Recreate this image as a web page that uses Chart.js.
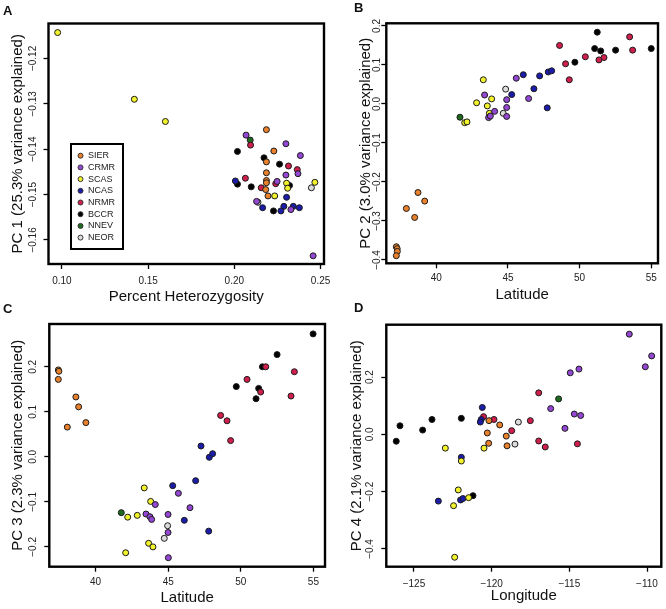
<!DOCTYPE html>
<html>
<head>
<meta charset="utf-8">
<script src="https://cdn.jsdelivr.net/npm/chart.js"></script>
<style>
  body { margin: 0; background: #fff; }
  #fig { position: relative; width: 666px; height: 609px; font-family: "Liberation Sans", Arial, sans-serif; }
  canvas { position: absolute; }
  .tag { position: absolute; font-weight: bold; font-size: 13px; line-height: 13px; color: #111; }
</style>
</head>
<body>
<div id="fig">
  <canvas id="pA" width="333" height="312" style="left:0;top:0"></canvas>
  <canvas id="pB" width="333" height="312" style="left:333px;top:0"></canvas>
  <canvas id="pC" width="333" height="309" style="left:0;top:300px"></canvas>
  <canvas id="pD" width="333" height="309" style="left:333px;top:300px"></canvas>
  <div class="tag" style="left:3px;top:4px">A</div>
  <div class="tag" style="left:354px;top:1px">B</div>
  <div class="tag" style="left:3px;top:302px">C</div>
  <div class="tag" style="left:354px;top:301px">D</div>
</div>
<script>
// population groups and their colours
var groups = ['SIER', 'CRMR', 'SCAS', 'NCAS', 'NRMR', 'BCCR', 'NNEV', 'NEOR'];
var groupColors = ['#e8802c', '#9347d2', '#f2f22c', '#1c1cab', '#d11f4d', '#000000', '#1e6a1e', '#dcdcdc'];

// PC1 vs percent heterozygosity  [group, het, pc1]
var pc1Het = [
  ['SCAS', 0.0975, -0.1143], ['SCAS', 0.142, -0.1290], ['SCAS', 0.160, -0.1339],
  ['SIER', 0.2186, -0.1357], ['CRMR', 0.2068, -0.1369], ['NNEV', 0.2092, -0.1380],
  ['NRMR', 0.2094, -0.1391], ['CRMR', 0.2299, -0.1388], ['BCCR', 0.2018, -0.1405],
  ['SIER', 0.2229, -0.1404], ['CRMR', 0.2383, -0.1414], ['BCCR', 0.2172, -0.1419],
  ['SIER', 0.2186, -0.1428], ['BCCR', 0.2262, -0.1433], ['NRMR', 0.2314, -0.1437],
  ['NRMR', 0.2365, -0.1445], ['CRMR', 0.2369, -0.1454], ['SIER', 0.2186, -0.1452],
  ['CRMR', 0.2299, -0.1457], ['NRMR', 0.2064, -0.1464], ['SIER', 0.2186, -0.1469],
  ['NCAS', 0.2006, -0.1470], ['BCCR', 0.2018, -0.1477], ['CRMR', 0.2248, -0.1471],
  ['SIER', 0.2186, -0.1474], ['NRMR', 0.2240, -0.1476], ['SCAS', 0.2303, -0.1475],
  ['BCCR', 0.2320, -0.1480], ['SCAS', 0.2309, -0.1486], ['BCCR', 0.2098, -0.1483],
  ['NRMR', 0.2156, -0.1485], ['SIER', 0.2182, -0.1489], ['SCAS', 0.2467, -0.1473],
  ['NEOR', 0.2447, -0.1485], ['SIER', 0.2195, -0.1503], ['SCAS', 0.2234, -0.1503],
  ['NCAS', 0.2303, -0.1506], ['CRMR', 0.2129, -0.1515], ['NEOR', 0.2137, -0.1517],
  ['NCAS', 0.2164, -0.1529], ['NCAS', 0.2287, -0.1526], ['NCAS', 0.2342, -0.1526],
  ['NCAS', 0.2377, -0.1529], ['BCCR', 0.2227, -0.1536], ['NCAS', 0.2270, -0.1536],
  ['CRMR', 0.2328, -0.1533], ['CRMR', 0.2457, -0.1635]
];

// PC2 vs latitude
var pc2Lat = [
  ['SIER', 37.21, -0.366], ['SIER', 37.27, -0.371], ['SIER', 37.28, -0.378], ['SIER', 37.21, -0.389],
  ['SIER', 38.72, -0.227], ['SIER', 39.19, -0.249], ['SIER', 37.91, -0.268], ['SIER', 38.49, -0.291],
  ['NNEV', 41.65, -0.034], ['SCAS', 41.98, -0.048], ['SCAS', 42.14, -0.046], ['SCAS', 42.81, 0.003],
  ['SCAS', 43.28, 0.062], ['CRMR', 43.37, 0.023], ['SCAS', 43.86, 0.013], ['SCAS', 43.56, -0.005],
  ['SCAS', 43.70, -0.024], ['CRMR', 43.65, -0.035], ['CRMR', 43.77, -0.031], ['CRMR', 44.07, -0.019],
  ['NEOR', 44.84, 0.038], ['NEOR', 44.67, -0.024], ['CRMR', 44.91, 0.011], ['CRMR', 44.91, -0.009],
  ['CRMR', 44.91, -0.032], ['NCAS', 45.26, 0.024], ['CRMR', 45.58, 0.066], ['NCAS', 46.07, 0.075],
  ['CRMR', 46.44, 0.014], ['NCAS', 46.81, 0.039], ['NCAS', 47.21, 0.072], ['NCAS', 47.74, -0.010],
  ['NCAS', 47.81, 0.082], ['NCAS', 48.05, 0.085], ['NRMR', 48.60, 0.150], ['NRMR', 49.02, 0.103],
  ['BCCR', 49.67, 0.107], ['NRMR', 49.28, 0.062], ['NRMR', 50.40, 0.121], ['BCCR', 51.05, 0.142],
  ['BCCR', 51.23, 0.184], ['NRMR', 51.35, 0.113], ['BCCR', 51.47, 0.136], ['NRMR', 51.70, 0.119],
  ['BCCR', 52.51, 0.138], ['NRMR', 53.49, 0.172], ['NRMR', 53.70, 0.138], ['BCCR', 55.00, 0.142]
];

// PC3 vs latitude
var pc3Lat = [
  ['SIER', 37.43, 0.193], ['SIER', 37.47, 0.190], ['SIER', 37.43, 0.172], ['SIER', 38.64, 0.133],
  ['SIER', 38.83, 0.111], ['SIER', 38.05, 0.066], ['SIER', 39.33, 0.076],
  ['NNEV', 41.77, -0.124], ['SCAS', 42.21, -0.134], ['SCAS', 42.07, -0.213], ['SCAS', 42.87, -0.130],
  ['SCAS', 43.35, -0.069], ['CRMR', 43.47, -0.127], ['SCAS', 43.79, -0.099], ['CRMR', 43.74, -0.133],
  ['CRMR', 43.86, -0.139], ['CRMR', 44.11, -0.106], ['SCAS', 43.65, -0.192], ['SCAS', 43.95, -0.200],
  ['NEOR', 44.96, -0.153], ['NEOR', 44.73, -0.181], ['CRMR', 44.99, -0.128], ['CRMR', 44.99, -0.168],
  ['CRMR', 45.01, -0.224], ['NCAS', 45.31, -0.064], ['CRMR', 45.70, -0.081], ['NCAS', 46.11, -0.141],
  ['CRMR', 46.50, -0.113], ['NCAS', 46.89, -0.053], ['NCAS', 47.79, -0.165], ['NCAS', 47.26, 0.024],
  ['NCAS', 47.83, -0.001], ['NCAS', 48.06, 0.007], ['NRMR', 48.61, 0.092], ['NRMR', 49.05, 0.080],
  ['NRMR', 49.30, 0.036], ['BCCR', 49.69, 0.156], ['NRMR', 50.43, 0.172], ['BCCR', 51.05, 0.129],
  ['BCCR', 51.23, 0.152], ['NRMR', 51.37, 0.144], ['BCCR', 51.49, 0.200], ['NRMR', 51.72, 0.200],
  ['BCCR', 52.50, 0.227], ['NRMR', 53.46, 0.135], ['NRMR', 53.69, 0.189], ['BCCR', 54.98, 0.273]
];

// PC4 vs longitude
var pc4Lon = [
  ['BCCR', -126.14, -0.024], ['BCCR', -125.90, 0.030], ['BCCR', -124.44, 0.015], ['BCCR', -123.84, 0.052],
  ['BCCR', -121.95, 0.056], ['SCAS', -122.98, -0.048], ['NCAS', -121.95, -0.080], ['SCAS', -121.95, -0.093],
  ['NCAS', -120.60, 0.094], ['NCAS', -120.67, 0.052], ['NCAS', -120.73, 0.043], ['NRMR', -120.52, 0.062],
  ['SCAS', -120.49, -0.048], ['SIER', -120.17, 0.048], ['NRMR', -119.85, 0.052], ['SIER', -120.28, 0.005],
  ['SIER', -120.19, -0.031], ['SIER', -119.48, 0.033], ['NRMR', -118.71, 0.013], ['SIER', -119.06, -0.006],
  ['SIER', -119.01, -0.040], ['NEOR', -118.50, -0.034], ['NEOR', -118.28, 0.043], ['NRMR', -117.51, 0.048],
  ['NRMR', -116.97, 0.145], ['NRMR', -116.97, -0.023], ['NRMR', -116.55, -0.044], ['CRMR', -116.20, 0.090],
  ['NNEV', -115.69, 0.124], ['CRMR', -115.28, 0.021], ['CRMR', -114.94, 0.215], ['CRMR', -114.68, 0.071],
  ['CRMR', -114.38, 0.228], ['CRMR', -114.27, 0.066], ['NRMR', -114.48, -0.033], ['CRMR', -111.14, 0.350],
  ['CRMR', -110.11, 0.236], ['CRMR', -109.70, 0.274], ['NCAS', -123.43, -0.233], ['SCAS', -122.15, -0.194],
  ['SCAS', -122.45, -0.249], ['NCAS', -122.00, -0.229], ['NCAS', -121.85, -0.224], ['SCAS', -121.48, -0.221],
  ['BCCR', -121.20, -0.214], ['SCAS', -122.38, -0.429]
];

// tick values
var hetTicks = [0.10, 0.15, 0.20, 0.25];
var pc1Ticks = [-0.12, -0.13, -0.14, -0.15, -0.16];
var latTicks = [40, 45, 50, 55];
var pc2Ticks = [0.2, 0.1, 0.0, -0.1, -0.2, -0.3, -0.4];
var pc3Ticks = [0.2, 0.1, 0.0, -0.1, -0.2];
var lonTicks = [-125, -120, -115, -110];
var pc4Ticks = [0.2, 0.0, -0.2, -0.4];

var FONT = '"Liberation Sans", Arial, sans-serif';

function fmt(v, d) {
    return v.toFixed(d).replace('-', '\u2212');
}

// full box round the plot area, like R's box()
var framePlugin = {
    id: 'frame',
    afterDraw: function (chart) {
        var a = chart.chartArea, ctx = chart.ctx;
        ctx.save();
        ctx.lineWidth = 2.4;
        ctx.strokeStyle = '#000';
        ctx.strokeRect(a.left, a.top, a.right - a.left, a.bottom - a.top);
        ctx.restore();
    }
};

// y tick labels written parallel to the axis
var yLabelPlugin = {
    id: 'yLabels',
    afterDraw: function (chart, args, opts) {
        var scale = chart.scales.y, ctx = chart.ctx;
        ctx.save();
        ctx.font = '10px ' + FONT;
        ctx.fillStyle = '#222';
        ctx.textAlign = 'center';
        ctx.textBaseline = 'middle';
        scale.ticks.forEach(function (t) {
            var y = scale.getPixelForValue(t.value);
            ctx.save();
            ctx.translate(opts.x, y);
            ctx.rotate(-Math.PI / 2);
            ctx.fillText(fmt(t.value, opts.digits), 0, 0);
            ctx.restore();
        });
        ctx.restore();
    }
};

// boxed legend inside panel A
var legendPlugin = {
    id: 'boxLegend',
    afterDraw: function (chart, args, o) {
        var ctx = chart.ctx;
        ctx.save();
        ctx.fillStyle = '#fff';
        ctx.fillRect(o.x, o.y, o.w, o.h);
        ctx.lineWidth = 2;
        ctx.strokeStyle = '#000';
        ctx.strokeRect(o.x, o.y, o.w, o.h);
        ctx.font = o.size + 'px ' + FONT;
        ctx.textBaseline = 'middle';
        chart.data.datasets.forEach(function (ds, i) {
            var cy = o.y + o.first + i * o.step;
            ctx.beginPath();
            ctx.arc(o.x + o.dot, cy, 2.5, 0, Math.PI * 2);
            ctx.fillStyle = ds.backgroundColor;
            ctx.fill();
            ctx.lineWidth = 1;
            ctx.strokeStyle = '#333';
            ctx.stroke();
            ctx.fillStyle = '#222';
            ctx.fillText(ds.label, o.x + o.text, cy);
        });
        ctx.restore();
    }
};

function makePanel(id, rows, c) {
    var canvas = document.getElementById(id);
    var W = canvas.width, H = canvas.height;
    var datasets = groups.map(function (g, i) {
        return {
            label: g,
            data: rows.filter(function (r) { return r[0] === g; })
                      .map(function (r) { return {x: r[1], y: r[2]}; }),
            backgroundColor: groupColors[i],
            borderColor: '#1a1a1a',
            pointRadius: 3,
            pointHoverRadius: 3,
            pointBorderWidth: 1
        };
    });
    var tickGrid = {drawOnChartArea: false, drawTicks: true, tickLength: 5, tickWidth: 1.3, tickColor: '#000'};
    var plugins = [framePlugin, yLabelPlugin];
    if (c.legend) plugins.push(legendPlugin);

    return new Chart(canvas, {
        type: 'scatter',
        data: {datasets: datasets},
        options: {
            responsive: false,
            animation: false,
            devicePixelRatio: 1,
            layout: {padding: {left: 0, top: c.area[1], right: W - c.area[2], bottom: 0}},
            plugins: {
                legend: {display: false},
                tooltip: {enabled: false},
                yLabels: {x: c.yLabelX, digits: c.yDigits},
                boxLegend: c.legend || {}
            },
            scales: {
                x: {
                    type: 'linear',
                    position: 'bottom',
                    bounds: 'data',
                    min: c.xRange[0],
                    max: c.xRange[1],
                    afterBuildTicks: function (s) { s.ticks = c.xTicks.map(function (v) { return {value: v}; }); },
                    afterFit: function (s) { s.height = H - c.area[3]; s.paddingLeft = 0; s.paddingRight = 0; },
                    grid: tickGrid,
                    border: {display: false},
                    ticks: {
                        font: {family: FONT, size: 10},
                        color: '#222',
                        padding: c.xTickPad,
                        maxRotation: 0,
                        autoSkip: false,
                        callback: function (v) { return fmt(v, c.xDigits); }
                    },
                    title: {
                        display: true,
                        text: c.xTitle,
                        font: {family: FONT, size: 15},
                        color: '#111',
                        padding: {top: 0, bottom: c.xTitlePad}
                    }
                },
                y: {
                    type: 'linear',
                    position: 'left',
                    bounds: 'data',
                    min: c.yRange[0],
                    max: c.yRange[1],
                    afterBuildTicks: function (s) { s.ticks = c.yTicks.map(function (v) { return {value: v}; }); },
                    afterFit: function (s) { s.width = c.area[0]; s.paddingTop = 0; s.paddingBottom = 0; },
                    grid: tickGrid,
                    border: {display: false},
                    ticks: {display: false},
                    title: {
                        display: true,
                        text: c.yTitle,
                        font: {family: FONT, size: 15},
                        color: '#111',
                        padding: {top: c.yTitlePad, bottom: 0}
                    }
                }
            }
        },
        plugins: plugins
    });
}

makePanel('pA', pc1Het, {
    area: [48.5, 23.5, 324, 264],
    xRange: [0.0922, 0.2520], yRange: [-0.1653, -0.1123],
    xTicks: hetTicks, yTicks: pc1Ticks, xDigits: 2, yDigits: 2,
    xTitle: 'Percent Heterozygosity', yTitle: 'PC 1 (25.3% variance explained)',
    yLabelX: 33.3, yTitlePad: 9.3, xTitlePad: 6.5, xTickPad: 6.7,
    legend: {x: 71, y: 144, w: 52, h: 105, dot: 9.5, text: 17, first: 11.7, step: 11.7, size: 9}
});

makePanel('pB', pc2Lat, {
    area: [53.3, 23.3, 325, 263.3],
    xRange: [36.51, 55.47], yRange: [-0.4085, 0.2068],
    xTicks: latTicks, yTicks: pc2Ticks, xDigits: 0, yDigits: 1,
    xTitle: 'Latitude', yTitle: 'PC 2 (3.0% variance explained)',
    yLabelX: 44.3, yTitlePad: 23.5, xTitlePad: 8.2, xTickPad: 3.7
});

makePanel('pC', pc3Lat, {
    area: [49.3, 24, 325, 266.7],
    xRange: [36.81, 55.8], yRange: [-0.244, 0.295],
    xTicks: latTicks, yTicks: pc3Ticks, xDigits: 0, yDigits: 1,
    xTitle: 'Latitude', yTitle: 'PC 3 (2.3% variance explained)',
    yLabelX: 33.3, yTitlePad: 9.3, xTitlePad: 2.5, xTickPad: 5
});

makePanel('pD', pc4Lon, {
    area: [53.3, 24.7, 328.3, 266.7],
    xRange: [-126.78, -109.08], yRange: [-0.462, 0.383],
    xTicks: lonTicks, yTicks: pc4Ticks, xDigits: 0, yDigits: 1,
    xTitle: 'Longitude', yTitle: 'PC 4 (2.1% variance explained)',
    yLabelX: 37.7, yTitlePad: 15, xTitlePad: 4.5, xTickPad: 6.3
});
</script>
</body>
</html>
